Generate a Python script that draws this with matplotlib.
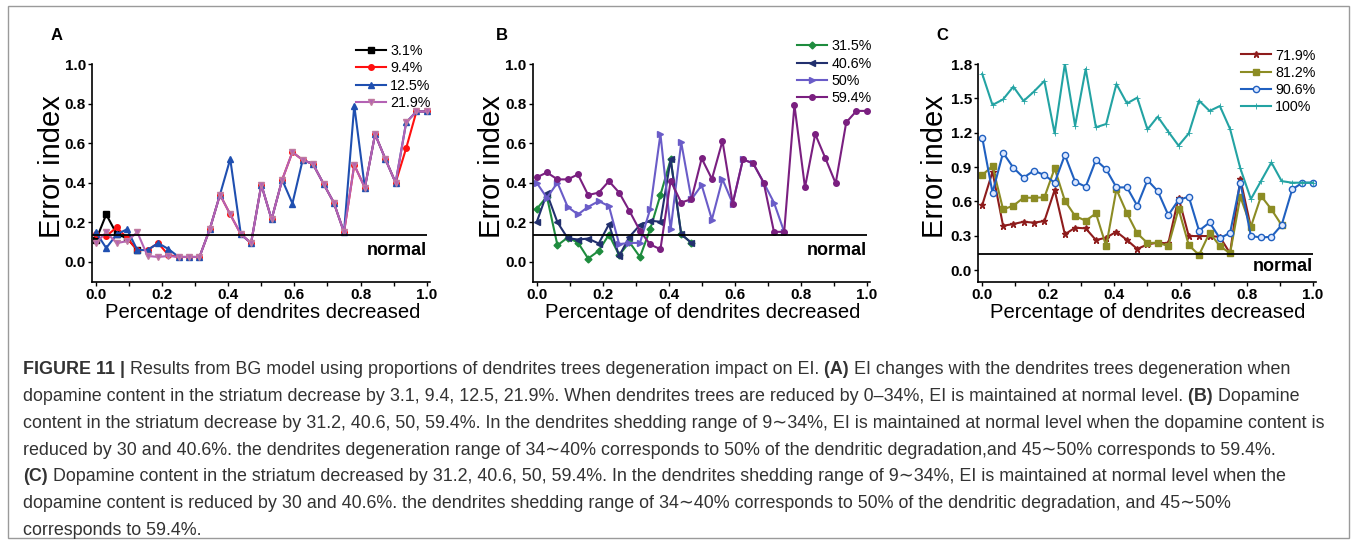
import numpy as np
import matplotlib
matplotlib.use('Agg')
import matplotlib.pyplot as plt
from matplotlib.patches import Rectangle
from matplotlib.ticker import MultipleLocator

plt.rcParams['font.family'] = ['Liberation Sans', 'DejaVu Sans']

W, H = 1357, 544

# fraction of dendrites removed (33 steps)
dendrites = [0.000, 0.031, 0.063, 0.094, 0.125, 0.156, 0.188, 0.219, 0.250, 0.281,
             0.313, 0.344, 0.375, 0.406, 0.438, 0.469, 0.500, 0.531, 0.563, 0.594,
             0.625, 0.656, 0.688, 0.719, 0.750, 0.781, 0.813, 0.844, 0.875, 0.906,
             0.938, 0.969, 1.000]

# panel A
labels_a = ['3.1%', '9.4%', '12.5%', '21.9%']
ei_a_31 = [0.11, 0.24, 0.14, 0.12, 0.06]
ei_a_94 = [0.14, 0.13, 0.175, 0.12, 0.06, 0.06, 0.095, 0.035, 0.025, 0.025, 0.025,
           0.165, 0.34, 0.24, 0.14, 0.095, 0.39, 0.215, 0.415, 0.555, 0.515, 0.495,
           0.395, 0.30, 0.15, 0.49, 0.375, 0.645, 0.52, 0.40, 0.575, 0.76, 0.76]
ei_a_125 = [0.15, 0.07, 0.14, 0.165, 0.06, 0.06, 0.095, 0.065, 0.025, 0.025, 0.025,
            0.165, 0.34, 0.52, 0.14, 0.095, 0.39, 0.215, 0.415, 0.295, 0.515, 0.495,
            0.395, 0.30, 0.15, 0.79, 0.375, 0.645, 0.52, 0.40, 0.705, 0.76, 0.76]
ei_a_219 = [0.095, 0.15, 0.095, 0.105, 0.15, 0.03, 0.025, 0.03, 0.025, 0.025, 0.025,
            0.165, 0.34, 0.24, 0.14, 0.095, 0.39, 0.215, 0.415, 0.555, 0.515, 0.495,
            0.395, 0.30, 0.15, 0.49, 0.375, 0.645, 0.52, 0.40, 0.705, 0.76, 0.76]

# panel B
labels_b = ['31.5%', '40.6%', '50%', '59.4%']
ei_b_315 = [0.267, 0.33, 0.084, 0.123, 0.098, 0.017, 0.056, 0.138, 0.034, 0.10, 0.025,
            0.165, 0.338, 0.518, 0.14, 0.096]
ei_b_406 = [0.20, 0.346, 0.20, 0.12, 0.113, 0.118, 0.093, 0.19, 0.03, 0.127, 0.186,
            0.208, 0.203, 0.518, 0.14, 0.096]
ei_b_50 = [0.40, 0.324, 0.40, 0.278, 0.24, 0.278, 0.307, 0.282, 0.09, 0.096, 0.096,
           0.267, 0.646, 0.164, 0.604, 0.316, 0.388, 0.214, 0.418, 0.295, 0.518, 0.498,
           0.40, 0.30, 0.152]
ei_b_594 = [0.427, 0.452, 0.417, 0.417, 0.442, 0.338, 0.35, 0.408, 0.35, 0.258, 0.157,
            0.088, 0.064, 0.41, 0.30, 0.317, 0.523, 0.419, 0.611, 0.295, 0.518, 0.498,
            0.40, 0.152, 0.152, 0.793, 0.376, 0.646, 0.523, 0.397, 0.705, 0.763, 0.763]

# panel C
labels_c = ['71.9%', '81.2%', '90.6%', '100%']
ei_c_719 = [0.568, 0.859, 0.387, 0.402, 0.422, 0.414, 0.428, 0.699, 0.312, 0.37, 0.364,
            0.262, 0.283, 0.335, 0.262, 0.184, 0.224, 0.239, 0.233, 0.632, 0.297, 0.297,
            0.297, 0.29, 0.146, 0.795, 0.373]
ei_c_812 = [0.83, 0.909, 0.53, 0.562, 0.632, 0.632, 0.635, 0.888, 0.606, 0.472, 0.431,
            0.495, 0.21, 0.705, 0.495, 0.32, 0.236, 0.239, 0.21, 0.533, 0.218, 0.131,
            0.326, 0.21, 0.146, 0.641, 0.379, 0.647, 0.53, 0.393]
ei_c_906 = [1.156, 0.676, 1.025, 0.894, 0.807, 0.868, 0.83, 0.763, 1.005, 0.772, 0.728,
            0.961, 0.88, 0.722, 0.722, 0.562, 0.785, 0.69, 0.48, 0.612, 0.641, 0.344,
            0.416, 0.277, 0.326, 0.763, 0.297, 0.285, 0.29, 0.393, 0.705, 0.763, 0.763]
ei_c_100 = [1.713, 1.442, 1.491, 1.602, 1.477, 1.558, 1.652, 1.194, 1.80, 1.261, 1.756,
            1.247, 1.276, 1.625, 1.456, 1.506, 1.228, 1.34, 1.209, 1.087, 1.194, 1.48,
            1.39, 1.433, 1.232, 0.888, 0.62, 0.78, 0.94, 0.777, 0.763, 0.763, 0.763]

normal_level = [0.135, 0.135, 0.137]

x = np.array(dendrites)

fig = plt.figure(figsize=(W / 100, H / 100), dpi=100)


def fx(p):
    return p / W


def fy(p):
    return 1 - p / H


def make_axes(left, top, right, bottom, ymax, ystep):
    ax = fig.add_axes([fx(left), fy(bottom), fx(right - left), (bottom - top) / H])
    ax.spines[['top', 'right']].set_visible(False)
    for s in ['left', 'bottom']:
        ax.spines[s].set_linewidth(1.2)
    ax.set_xlim(-0.012, 1.01)
    ax.set_ylim(-0.1, ymax)
    ax.set_xticks([0, 0.2, 0.4, 0.6, 0.8, 1.0])
    ax.xaxis.set_minor_locator(MultipleLocator(0.1))
    ax.set_yticks(np.arange(0, ymax + 1e-6, ystep))
    ax.tick_params(axis='both', which='both', direction='out', length=3, width=1,
                   pad=1.5, labelsize=11)
    for lab in ax.get_xticklabels() + ax.get_yticklabels():
        lab.set_fontweight('bold')
    return ax


def series(ax, ys, color, marker, label, ms=4, **kw):
    ax.plot(x[:len(ys)], ys, color=color, marker=marker, ms=ms, lw=1.5, label=label,
            mec=kw.pop('mec', color), **kw)


def finish(ax, normal, normal_y, legend_xy, letter_xy, ylabel_xy, xlabel_xy):
    ax.hlines(normal, -0.012, 1.0, color='black', lw=1.3)
    ax.text(1.0, normal_y, 'normal', ha='right', va='center', fontsize=13,
            fontweight='bold')
    ax.legend(loc='upper left', bbox_to_anchor=(fx(legend_xy[0]), fy(legend_xy[1])),
              bbox_transform=fig.transFigure, frameon=False, borderpad=0,
              borderaxespad=0, handlelength=2.1, handletextpad=0.3,
              labelspacing=0.23, fontsize=10.3)
    fig.text(fx(letter_xy[0]), fy(letter_xy[1]), letter_xy[2], ha='center',
             va='center', fontsize=12, fontweight='bold')
    fig.text(fx(ylabel_xy[0]), fy(ylabel_xy[1]), 'Error index', rotation=90,
             ha='center', va='center', fontsize=21)
    fig.text(fx(xlabel_xy[0]), fy(xlabel_xy[1]), 'Percentage of dendrites decreased',
             ha='center', va='center', fontsize=14.6)


# ---- A ----
ax_a = make_axes(92, 64, 430, 281.7, 1.0, 0.2)
series(ax_a, ei_a_31, 'black', 's', labels_a[0])
series(ax_a, ei_a_94, '#ff1010', 'o', labels_a[1])
series(ax_a, ei_a_125, '#1f4fb0', '^', labels_a[2])
series(ax_a, ei_a_219, '#b462b4', 'v', labels_a[3], mec='#c07aa0')
finish(ax_a, normal_level[0], 0.06, (356, 44), (57, 35, 'A'), (52, 167), (263, 313))

# ---- B ----
ax_b = make_axes(532.7, 64, 870, 281.7, 1.0, 0.2)
series(ax_b, ei_b_315, '#1e8c3e', 'D', labels_b[0], ms=3.5)
series(ax_b, ei_b_406, '#22306e', '<', labels_b[1])
series(ax_b, ei_b_50, '#6a5cc8', '>', labels_b[2])
series(ax_b, ei_b_594, '#7a1f80', 'o', labels_b[3])
finish(ax_b, normal_level[1], 0.06, (797, 39.5), (502, 35, 'B'), (492, 167), (703, 313))

# ---- C ----
ax_c = make_axes(978.3, 64, 1316, 281.5, 1.8, 0.3)
series(ax_c, ei_c_719, '#8e1c1c', '*', labels_c[0], ms=5)
series(ax_c, ei_c_812, '#8c8c24', 's', labels_c[1])
series(ax_c, ei_c_906, '#2060c0', 'o', labels_c[2], ms=4.5, mfc='#dde8ff')
series(ax_c, ei_c_100, '#23a3a3', '+', labels_c[3], ms=4, mew=0.6)
finish(ax_c, normal_level[2], 0.03, (1241, 48.5), (942, 35, 'C'), (935, 167), (1148, 313))

# ---- caption ----
cap_lines = [
    [("FIGURE 11 |", True),
     (" Results from BG model using proportions of dendrites trees degeneration impact on EI.", False),
     (" (A)", True),
     (" EI changes with the dendrites trees degeneration when", False)],
    [("dopamine content in the striatum decrease by 3.1, 9.4, 12.5, 21.9%. When dendrites trees are reduced by 0\u201334%, EI is maintained at normal level.", False),
     (" (B)", True), (" Dopamine", False)],
    [("content in the striatum decrease by 31.2, 40.6, 50, 59.4%. In the dendrites shedding range of 9\u223c34%, EI is maintained at normal level when the dopamine content is", False)],
    [("reduced by 30 and 40.6%. the dendrites degeneration range of 34\u223c40% corresponds to 50% of the dendritic degradation,and 45\u223c50% corresponds to 59.4%.", False)],
    [("(C)", True),
     (" Dopamine content in the striatum decreased by 31.2, 40.6, 50, 59.4%. In the dendrites shedding range of 9\u223c34%, EI is maintained at normal level when the", False)],
    [("dopamine content is reduced by 30 and 40.6%. the dendrites shedding range of 34\u223c40% corresponds to 50% of the dendritic degradation, and 45\u223c50%", False)],
    [("corresponds to 59.4%.", False)],
]

renderer = fig.canvas.get_renderer()
cap_y = 370
for segs in cap_lines:
    cx = 23
    for txt, bold in segs:
        t = fig.text(fx(cx), fy(cap_y), txt, fontsize=12.9, color='#333333',
                     fontweight='bold' if bold else 'normal', ha='left', va='center')
        cx += t.get_window_extent(renderer).width
    cap_y += 26.7

fig.patches.append(Rectangle((fx(8), fy(538)), fx(1349 - 8), (538 - 6) / H,
                             transform=fig.transFigure, fill=False,
                             edgecolor='#9a9a9a', lw=1))

fig.savefig('out.png', dpi=100)
